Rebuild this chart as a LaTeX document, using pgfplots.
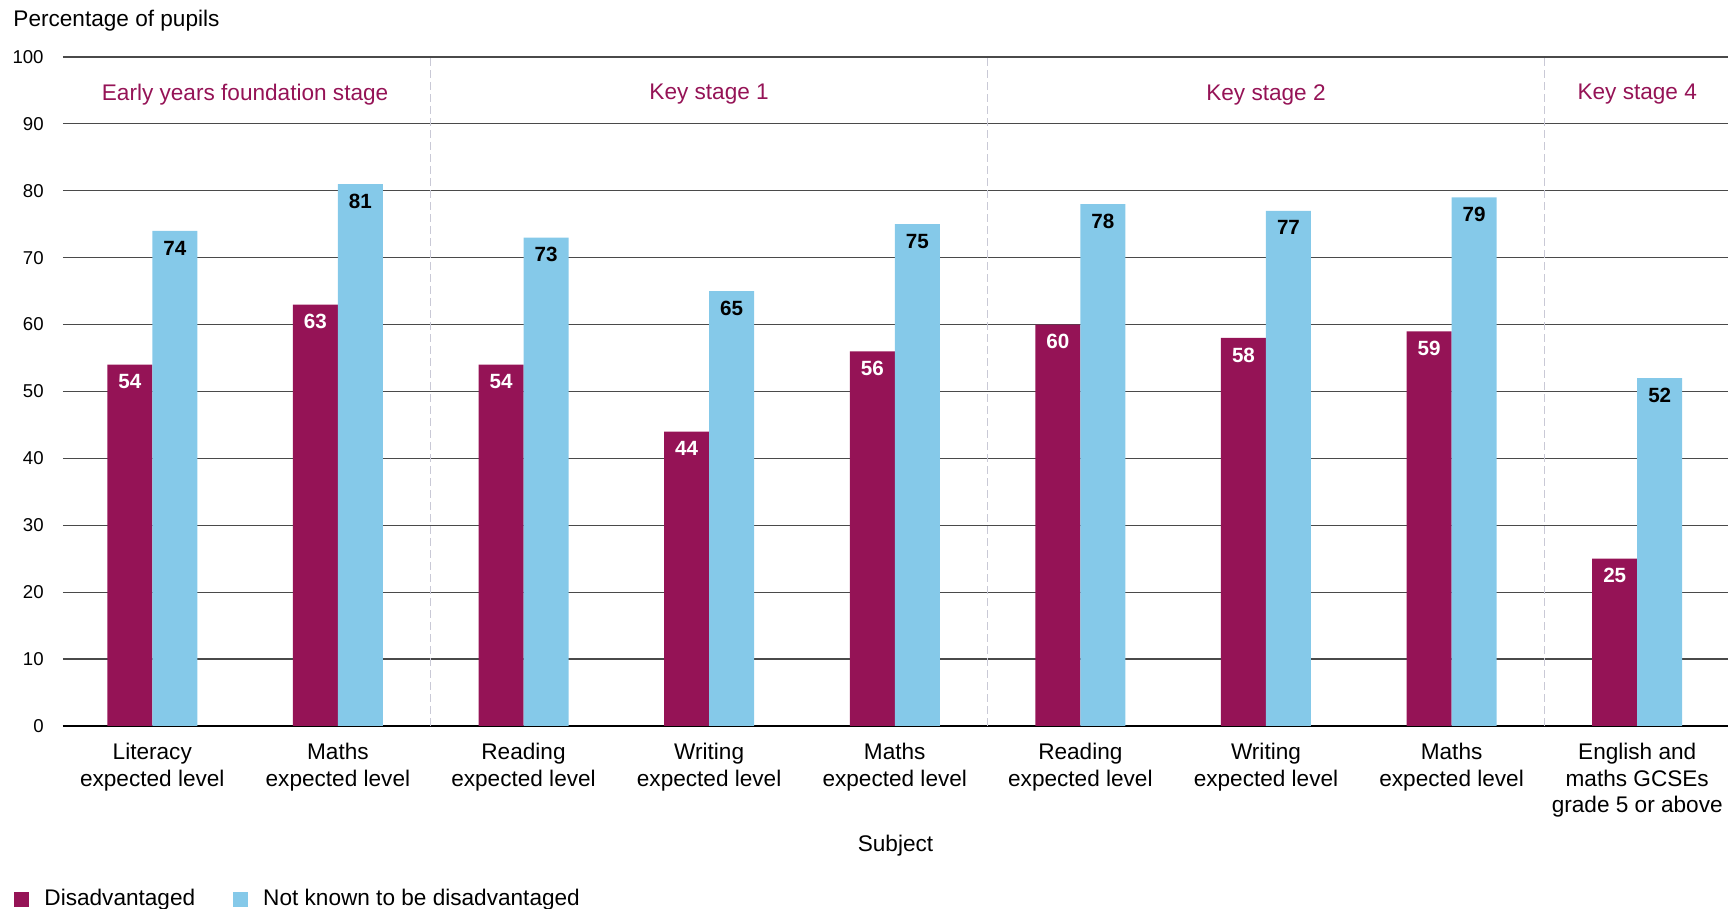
\documentclass[border=0pt]{standalone}
\usepackage{pgfplots}
\pgfplotsset{compat=1.18}
\usepackage{fontspec}
\setmainfont{Liberation Sans}
\definecolor{dis}{HTML}{951356}
\definecolor{nkd}{HTML}{85C9E9}
\definecolor{gridc}{HTML}{4A4A4A}
\definecolor{divc}{HTML}{C9C9D6}
\newcommand{\mainfs}{\fontsize{11.3}{13.3}\selectfont}
\begin{document}
\begin{tikzpicture}
\useasboundingbox (-31.5pt,-91.5pt) rectangle (833.5pt,363pt);
\begin{axis}[
  at={(0,0)}, anchor=south west,
  scale only axis, width=832.5pt, height=334.5pt,
  ybar, bar width=22.5pt,
  xmin=-0.481, xmax=8.489, ymin=0, ymax=100,
  axis x line=bottom, axis y line=left,
  axis line style={-},
  x axis line style={black, line width=0.7pt},
  y axis line style={draw=none},
  major tick length=0pt,
  ytick={0,10,...,100},
  ymajorgrids, major grid style={gridc, line width=0.6pt},
  /pgf/number format/assume math mode=true,
  yticklabel style={font=\fontsize{9.3}{11}\selectfont, anchor=east, inner sep=0pt, xshift=-9.5pt},
  xtick={0,...,8},
  xticklabels={{Literacy\\expected level},{Maths\\expected level},{Reading\\expected level},{Writing\\expected level},{Maths\\expected level},{Reading\\expected level},{Writing\\expected level},{Maths\\expected level},{English and\\maths GCSEs\\grade 5 or above}},
  xticklabel style={font=\mainfs, align=center, anchor=north, inner sep=0pt, yshift=-8.5pt},
  xlabel={Subject},
  xlabel style={font=\mainfs, at={(axis description cs:0.5,-0.1794)}, anchor=center},
  ylabel={Percentage of pupils},
  ylabel style={font=\mainfs, rotate=-90, anchor=west, inner sep=0pt, at={(axis description cs:-0.030,1.055)}},
  legend columns=2,
  legend style={at={(axis description cs:-0.0330,-0.2586)}, anchor=west, draw=none, fill=none, font=\mainfs,
    /tikz/every odd column/.append style={column sep=5.5pt},
    /tikz/every even column/.append style={column sep=17pt}},
  legend image code/.code={\fill[#1] (0pt,-3.75pt) rectangle (7.5pt,3.75pt);},
]
\addplot[fill=dis, draw=none, bar shift=-11.25pt, nodes near coords,
  every node near coord/.append style={anchor=center, yshift=-8.5pt, text=white, font=\bfseries\fontsize{10.3}{12}\selectfont}]
  coordinates {(0,54) (1,63) (2,54) (3,44) (4,56) (5,60) (6,58) (7,59) (8,25)};
\addplot[fill=nkd, draw=none, bar shift=11.25pt, nodes near coords,
  every node near coord/.append style={anchor=center, yshift=-8.5pt, text=black, font=\bfseries\fontsize{10.3}{12}\selectfont}]
  coordinates {(0,74) (1,81) (2,73) (3,65) (4,75) (5,78) (6,77) (7,79) (8,52)};
\legend{Disadvantaged, Not known to be disadvantaged}
\draw[divc, line width=0.75pt, dash pattern=on 4pt off 2pt] (axis cs:1.5,0) -- (axis cs:1.5,100);
\draw[divc, line width=0.75pt, dash pattern=on 4pt off 2pt] (axis cs:4.5,0) -- (axis cs:4.5,100);
\draw[divc, line width=0.75pt, dash pattern=on 4pt off 2pt] (axis cs:7.5,0) -- (axis cs:7.5,100);
\node[text=dis, font=\mainfs] at (axis cs:0.5,94.4) {Early years foundation stage};
\node[text=dis, font=\mainfs] at (axis cs:3,94.4) {Key stage 1};
\node[text=dis, font=\mainfs] at (axis cs:6,94.4) {Key stage 2};
\node[text=dis, font=\mainfs] at (axis cs:8,94.4) {Key stage 4};
\end{axis}
\end{tikzpicture}
\end{document}
